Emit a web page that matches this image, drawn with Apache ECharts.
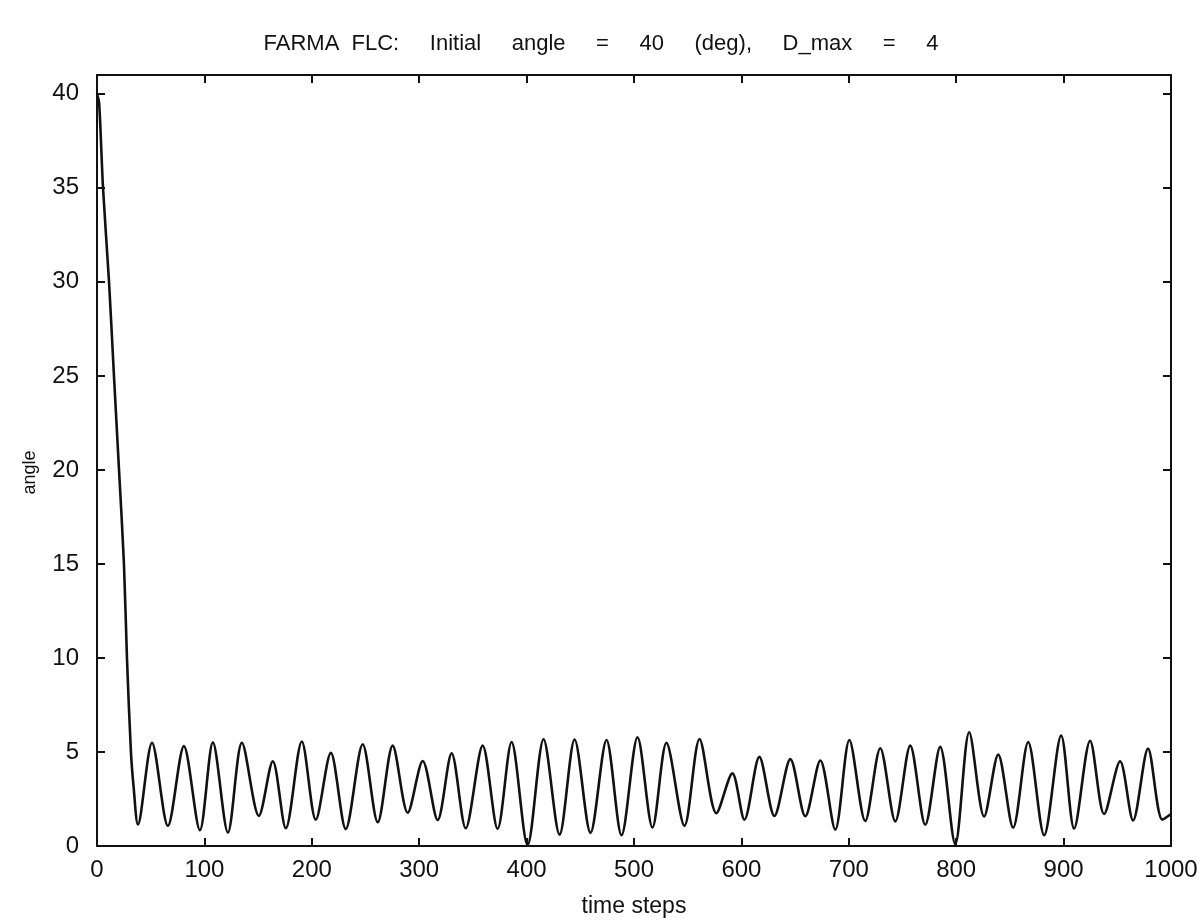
<!DOCTYPE html>
<html>
<head>
<meta charset="utf-8">
<script src="https://cdn.jsdelivr.net/npm/echarts@6/dist/echarts.min.js"></script>
<style>
html,body{margin:0;padding:0;background:#fff;}
#chart{width:1202px;height:923px;}
</style>
</head>
<body>
<div id="chart"></div>
<script>
const timeSteps = [0, 2, 5.6, 11.2, 15.8, 20.5, 25.1, 27.9, 31.6, 34, 38.1,
  51.2, 66, 80.9, 95.8, 107.9, 121.9, 134.9, 150.7, 163.7, 175.8, 190.7, 203.7, 217.7, 231.6,
  247.4, 261.4, 275.3, 289.3, 303.3, 317.2, 330.2, 343.3, 359.1, 373, 386, 400.9, 415.8, 430.7,
  444.7, 459.5, 474.4, 488.4, 503.3, 517.2, 530.2, 547, 561, 576.7, 591.6, 602.8, 616.7, 630.7,
  645.6, 659.5, 673.5, 687.4, 700.5, 715.3, 729.3, 743.3, 757.2, 771.2, 785.1, 799.1, 812.1, 826,
  839.1, 853, 867, 881.9, 897.7, 909.8, 924.7, 937.7, 952.6, 964.7, 978.6, 992, 1000];
const angleValues = [40, 39.5, 35, 30, 25, 20, 15, 10, 5, 3.2, 1.14,
  5.49, 1.07, 5.31, 0.84, 5.51, 0.71, 5.49, 1.6, 4.51, 0.94, 5.56, 1.4, 4.95, 0.9,
  5.41, 1.26, 5.34, 1.77, 4.52, 1.38, 4.93, 0.94, 5.34, 0.91, 5.53, 0.05, 5.68, 0.61,
  5.66, 0.7, 5.64, 0.57, 5.78, 0.98, 5.49, 1.07, 5.69, 1.74, 3.86, 1.4, 4.74, 1.6,
  4.62, 1.58, 4.55, 0.87, 5.64, 1.33, 5.2, 1.31, 5.34, 1.13, 5.27, 0.1, 6.05, 1.57,
  4.86, 0.97, 5.53, 0.57, 5.88, 0.93, 5.6, 1.7, 4.51, 1.36, 5.18, 1.4, 1.7];
const xTicks = [0, 100, 200, 300, 400, 500, 600, 700, 800, 900, 1000];
const yTicks = [0, 5, 10, 15, 20, 25, 30, 35, 40];
const titleWords = ['FARMA', 'FLC:', 'Initial', 'angle', '=', '40', '(deg),', 'D_max', '=', '4'];

const seriesData = timeSteps.map((t, i) => [t, angleValues[i]]);
const gap = '     ';
const titleText = titleWords[0] + '  ' + titleWords.slice(1).join(gap);
const fontFam = 'Arial, "Liberation Sans", Helvetica, sans-serif';

const chart = echarts.init(document.getElementById('chart'));
const axisLineStyle = {show: true, onZero: false, lineStyle: {color: '#111', width: 2}};
const tickIn = {show: true, inside: true, length: 8, lineStyle: {color: '#111', width: 2}};
chart.setOption({
  animation: false,
  backgroundColor: '#fff',
  title: {
    text: titleText, left: 'center', top: 28,
    textStyle: {fontFamily: fontFam, fontSize: 22, fontWeight: 'normal', color: '#111'}
  },
  grid: {left: 97, right: 31, top: 75, bottom: 77, containLabel: false},
  xAxis: [{
    type: 'value', min: 0, max: 1000, interval: 100, gridIndex: 0, position: 'bottom',
    name: 'time steps', nameLocation: 'middle', nameGap: 49,
    nameTextStyle: {fontFamily: fontFam, fontSize: 23, color: '#111'},
    axisLine: axisLineStyle, axisTick: tickIn, splitLine: {show: false},
    axisLabel: {fontFamily: fontFam, fontSize: 24, color: '#111', margin: 12,
      formatter: v => xTicks.includes(v) ? String(v) : ''}
  }, {
    type: 'value', min: 0, max: 1000, interval: 100, gridIndex: 0, position: 'top',
    axisLine: axisLineStyle, axisTick: tickIn, axisLabel: {show: false}, splitLine: {show: false}
  }],
  yAxis: [{
    type: 'value', min: 0, max: 41, interval: 5, gridIndex: 0, position: 'left',
    name: 'angle', nameLocation: 'middle', nameGap: 58,
    nameTextStyle: {fontFamily: fontFam, fontSize: 18, color: '#111', padding: [0, 24, 0, 0]},
    axisLine: axisLineStyle, axisTick: tickIn, splitLine: {show: false},
    axisLabel: {fontFamily: fontFam, fontSize: 24, color: '#111', margin: 18, showMaxLabel: false,
      formatter: v => yTicks.includes(v) ? String(v) : ''}
  }, {
    type: 'value', min: 0, max: 41, interval: 5, gridIndex: 0, position: 'right',
    axisLine: axisLineStyle, axisTick: tickIn, axisLabel: {show: false}, splitLine: {show: false}
  }],
  series: [{
    type: 'line', data: seriesData, xAxisIndex: 0, yAxisIndex: 0,
    showSymbol: false, smooth: 0.3,
    lineStyle: {color: '#111', width: 2.6}
  }, {
    type: 'line', data: [], xAxisIndex: 1, yAxisIndex: 1, showSymbol: false
  }]
});
</script>
</body>
</html>
